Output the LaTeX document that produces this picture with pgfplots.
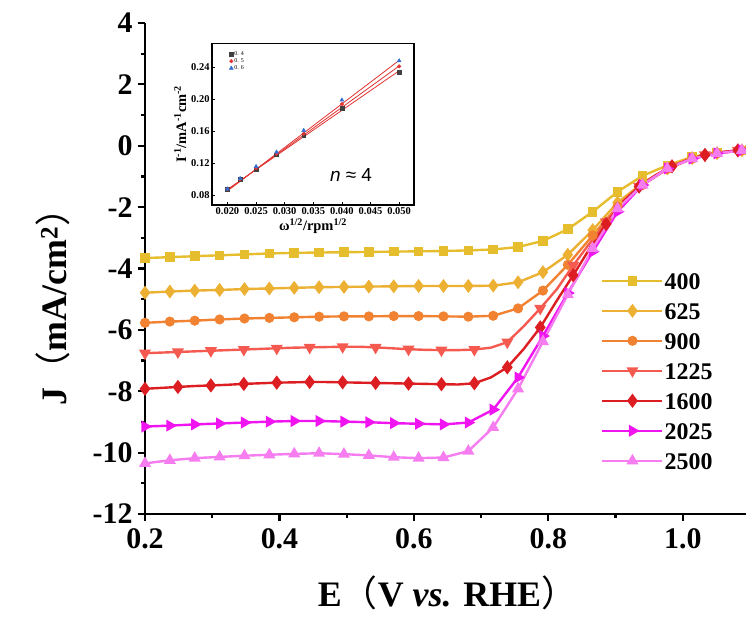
\documentclass[border=0pt]{standalone}
\usepackage{pgfplots}
\pgfplotsset{compat=1.18}
\usepackage{fontspec}
\setmainfont{Liberation Serif}
\newfontfamily\cjk{Noto Sans CJK SC}
\newfontfamily\arial{Liberation Sans}
\definecolor{cA}{RGB}{230,190,45}
\definecolor{cB}{RGB}{236,176,50}
\definecolor{cC}{RGB}{240,130,50}
\definecolor{cD}{RGB}{245,90,80}
\definecolor{cE}{RGB}{220,30,35}
\definecolor{cF}{RGB}{240,20,240}
\definecolor{cG}{RGB}{245,125,240}
\definecolor{iA}{RGB}{64,64,64}
\definecolor{iB}{RGB}{225,50,50}
\definecolor{iC}{RGB}{50,110,210}

\pgfplotstableread{
x y
0.200 -3.66
0.237 -3.63
0.274 -3.60
0.311 -3.57
0.348 -3.54
0.385 -3.51
0.422 -3.49
0.459 -3.48
0.496 -3.47
0.533 -3.46
0.570 -3.45
0.607 -3.44
0.644 -3.43
0.681 -3.41
0.718 -3.38
0.755 -3.30
0.792 -3.10
0.829 -2.72
0.866 -2.15
0.903 -1.50
0.940 -0.98
0.977 -0.64
1.014 -0.36
1.051 -0.22
1.088 -0.15
1.100 -0.13
}\dA
\pgfplotstableread{
x y
0.200 -4.79
0.237 -4.75
0.274 -4.72
0.311 -4.70
0.348 -4.67
0.385 -4.65
0.422 -4.63
0.459 -4.61
0.496 -4.60
0.533 -4.59
0.570 -4.58
0.607 -4.57
0.644 -4.57
0.681 -4.57
0.718 -4.56
0.755 -4.45
0.792 -4.12
0.829 -3.55
0.866 -2.75
0.903 -1.85
0.940 -1.22
0.977 -0.74
1.014 -0.40
1.051 -0.24
1.088 -0.15
1.100 -0.13
}\dB
\pgfplotstableread{
x y
0.200 -5.77
0.237 -5.73
0.274 -5.70
0.311 -5.66
0.348 -5.63
0.385 -5.61
0.422 -5.59
0.459 -5.57
0.496 -5.56
0.533 -5.56
0.570 -5.55
0.607 -5.55
0.644 -5.56
0.681 -5.57
0.718 -5.54
0.755 -5.30
0.792 -4.72
0.829 -3.88
0.866 -2.92
0.903 -1.98
0.940 -1.28
0.977 -0.76
1.014 -0.42
1.051 -0.25
1.088 -0.15
1.100 -0.13
}\dC
\pgfplotstableread{
x y
0.2000 -6.76
0.2245 -6.74
0.2490 -6.72
0.2735 -6.70
0.2980 -6.68
0.3225 -6.66
0.3470 -6.64
0.3715 -6.62
0.3960 -6.60
0.4205 -6.58
0.4450 -6.57
0.4695 -6.56
0.4940 -6.55
0.5185 -6.55
0.5430 -6.57
0.5675 -6.60
0.5920 -6.63
0.6165 -6.65
0.6410 -6.66
0.6655 -6.66
0.6900 -6.64
0.7145 -6.58
0.7390 -6.40
0.7635 -5.88
0.7880 -5.30
0.8125 -4.68
0.8370 -3.90
0.8615 -3.18
0.8860 -2.48
0.9105 -1.82
0.9350 -1.32
0.9595 -0.96
0.9840 -0.66
1.0085 -0.45
1.0330 -0.30
1.0575 -0.21
1.0820 -0.15
1.1000 -0.12
}\dD
\pgfplotstableread{
x y
0.2000 -7.92
0.2245 -7.89
0.2490 -7.86
0.2735 -7.83
0.2980 -7.81
0.3225 -7.79
0.3470 -7.76
0.3715 -7.74
0.3960 -7.72
0.4205 -7.71
0.4450 -7.70
0.4695 -7.70
0.4940 -7.71
0.5185 -7.72
0.5430 -7.73
0.5675 -7.74
0.5920 -7.75
0.6165 -7.76
0.6410 -7.77
0.6655 -7.78
0.6900 -7.74
0.7145 -7.55
0.7390 -7.22
0.7635 -6.62
0.7880 -5.92
0.8125 -5.05
0.8370 -4.22
0.8615 -3.35
0.8860 -2.55
0.9105 -1.85
0.9350 -1.33
0.9595 -0.97
0.9840 -0.67
1.0085 -0.45
1.0330 -0.30
1.0575 -0.21
1.0820 -0.15
1.1000 -0.12
}\dE
\pgfplotstableread{
x y
0.200 -9.15
0.237 -9.12
0.274 -9.08
0.311 -9.05
0.348 -9.02
0.385 -8.99
0.422 -8.97
0.459 -8.97
0.496 -8.99
0.533 -9.01
0.570 -9.04
0.607 -9.06
0.644 -9.08
0.681 -9.02
0.718 -8.60
0.755 -7.55
0.792 -6.20
0.829 -4.80
0.866 -3.45
0.903 -2.15
0.940 -1.28
0.977 -0.74
1.014 -0.42
1.051 -0.25
1.088 -0.15
1.100 -0.13
}\dF
\pgfplotstableread{
x y
0.200 -10.35
0.237 -10.25
0.274 -10.18
0.311 -10.14
0.348 -10.10
0.385 -10.07
0.422 -10.04
0.459 -10.02
0.496 -10.05
0.533 -10.09
0.570 -10.15
0.607 -10.18
0.644 -10.16
0.681 -9.95
0.718 -9.18
0.755 -7.92
0.792 -6.38
0.829 -4.85
0.866 -3.35
0.903 -2.05
0.940 -1.28
0.977 -0.74
1.014 -0.42
1.051 -0.25
1.088 -0.15
1.100 -0.12
}\dG

\begin{document}
\begin{tikzpicture}
\begin{axis}[
  name=main, at={(0,0)}, anchor=south west,
  scale only axis, width=605bp, height=491bp,
  xmin=0.2, xmax=1.1, ymin=-12, ymax=4,
  axis lines*=left,
  axis line style={line width=2.6bp},
  xtick={0.2,0.4,0.6,0.8,1.0}, minor x tick num=1,
  ytick={-12,-10,-8,-6,-4,-2,0,2,4}, minor y tick num=1,
  tick align=outside,
  major tick length=7bp, minor tick length=4bp,
  every tick/.style={black, line width=2.2bp},
  x tick label style={/pgf/number format/.cd, fixed, fixed zerofill, precision=1},
  /pgf/number format/assume math mode=true,
  tick label style={font=\fontsize{30}{30}\selectfont\bfseries},
  xticklabel shift=4bp, yticklabel shift=2bp,
  xlabel={E{\cjk\mdseries（}V \textit{vs.} RHE{\cjk\mdseries）}},
  ylabel={J{\cjk\mdseries（}mA/cm\textsuperscript{2}{\cjk\mdseries）}},
  label style={font=\fontsize{36}{36}\selectfont\bfseries},
  xlabel style={at={(rel axis cs:0.5,0)}, anchor=north, yshift=-58bp},
  ylabel style={at={([xshift=-92bp]rel axis cs:0,0.44)}, anchor=center},
  legend style={at={(axis cs:0.874,-4.02)}, anchor=north west, draw=none, fill=none,
    font=\fontsize{24}{24}\selectfont\bfseries, row sep=11bp,
    nodes={inner sep=1bp, text height=17bp, text depth=0bp}},
  legend cell align=left,
  legend image code/.code={\draw[mark repeat=2,mark phase=2] plot coordinates {(0bp,0bp) (30bp,0bp) (60bp,0bp)};},
  every axis plot/.append style={line width=2.4bp, mark size=3.5bp},
  every mark/.append style={line width=0.4bp},
]
\addplot[cA, mark=square*, mark size=3.6bp] table {\dA};
\addlegendentry{400}
\addplot[cB, mark=diamond*, mark size=5bp] table {\dB};
\addlegendentry{625}
\addplot[cC, mark=*, mark size=3.8bp] table {\dC};
\addlegendentry{900}
\addplot[cD, mark=triangle*, mark size=4.6bp, mark options={rotate=180}, mark repeat=2] table {\dD};
\addlegendentry{1225}
\addplot[cE, mark=diamond*, mark size=5.2bp, mark repeat=2] table {\dE};
\addlegendentry{1600}
\addplot[cF, mark=triangle*, mark size=4.6bp, mark options={rotate=-90}] table {\dF};
\addlegendentry{2025}
\addplot[cG, mark=triangle*, mark size=4.6bp] table {\dG};
\addlegendentry{2500}
\end{axis}

\begin{axis}[
  at={(67bp,309bp)}, anchor=south west,
  scale only axis, width=202bp, height=161.5bp,
  xmin=0.0173, xmax=0.0526, ymin=0.068, ymax=0.2696,
  axis line style={line width=1.3bp},
  xtick={0.020,0.025,0.030,0.035,0.040,0.045,0.050},
  ytick={0.08,0.12,0.16,0.20,0.24},
  xtick pos=bottom, ytick pos=left,
  tick align=inside, major tick length=2.5bp,
  every tick/.style={black, line width=0.8bp},
  /pgf/number format/assume math mode=true,
  x tick label style={/pgf/number format/.cd, fixed, fixed zerofill, precision=3},
  y tick label style={/pgf/number format/.cd, fixed, fixed zerofill, precision=2},
  tick label style={font=\fontsize{10.5}{10.5}\selectfont\bfseries},
  xticklabel shift=-1bp, yticklabel shift=-1bp,
  scaled x ticks=false, scaled y ticks=false,
  xlabel={ω\textsuperscript{1/2}/rpm\textsuperscript{1/2}},
  ylabel={I\textsuperscript{-1}/mA\textsuperscript{-1}cm\textsuperscript{-2}},
  label style={font=\fontsize{14.5}{14.5}\selectfont\bfseries},
  xlabel style={yshift=3bp}, ylabel style={yshift=-2bp},
  legend style={at={(rel axis cs:0.07,0.97)}, anchor=north west, draw=none, fill=none,
    font=\fontsize{6}{6}\selectfont, row sep=-0.5bp, nodes={inner sep=1bp}},
  legend cell align=left,
  legend image code/.code={\draw plot coordinates {(4bp,0bp)};},
]
\addplot[iB, line width=0.8bp, forget plot] coordinates {(0.020,0.0875) (0.050,0.2355)};
\addplot[iB, line width=0.8bp, forget plot] coordinates {(0.020,0.0865) (0.050,0.2415)};
\addplot[iB, line width=0.8bp, forget plot] coordinates {(0.020,0.0855) (0.050,0.2485)};
\addplot[only marks, mark=square*, mark size=1.8bp, iA] coordinates {
(0.020,0.088) (0.02222,0.100) (0.025,0.113) (0.02857,0.131) (0.03333,0.155) (0.040,0.189) (0.050,0.234)};
\addlegendentry{0. 4}
\addplot[only marks, mark=*, mark size=1.8bp, iB] coordinates {
(0.020,0.088) (0.02222,0.100) (0.025,0.114) (0.02857,0.132) (0.03333,0.157) (0.040,0.194) (0.050,0.241)};
\addlegendentry{0. 5}
\addplot[only marks, mark=triangle*, mark size=2.3bp, iC] coordinates {
(0.020,0.088) (0.02222,0.101) (0.025,0.116) (0.02857,0.134) (0.03333,0.161) (0.040,0.199) (0.050,0.248)};
\addlegendentry{0. 6}
\node[font=\arial\fontsize{19}{19}\selectfont] at (axis cs:0.0416,0.105) {\textit{n} ≈ 4};
\end{axis}
\pgfresetboundingbox
\useasboundingbox (-145bp,-104bp) rectangle (601bp,514bp);
\end{tikzpicture}
\end{document}
